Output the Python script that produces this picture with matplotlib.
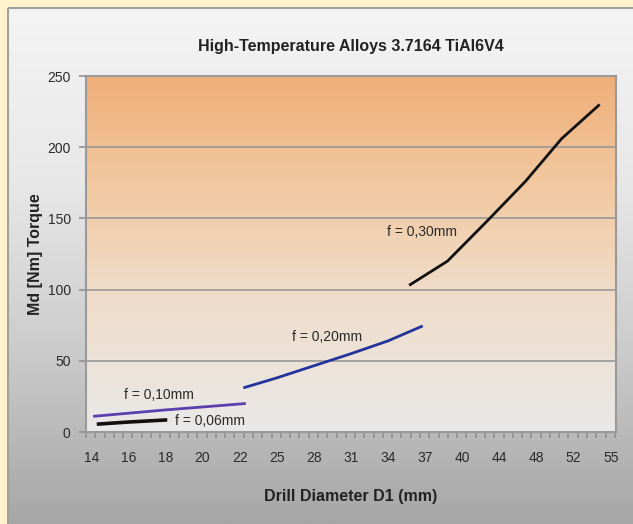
import numpy as np
import matplotlib.pyplot as plt
from matplotlib.colors import LinearSegmentedColormap
from matplotlib.patches import Rectangle

plt.rcParams['font.family'] = ['Liberation Sans', 'DejaVu Sans']

# Daten
diam_labels = [14, 16, 18, 20, 22, 25, 28, 31, 34, 37, 40, 44, 48, 52, 55]

d_006 = [14.3, 16, 18.1]
md_006 = [5.5, 7, 8.5]

d_010 = [14.1, 18, 22.5]
md_010 = [11, 15.5, 20]

d_020 = [22.3, 25, 28, 31, 34, 36.8]
md_020 = [31, 38, 46.5, 55, 64, 74.5]

d_030 = [35.7, 38.8, 42.8, 46.8, 50.7, 54.1]
md_030 = [103, 120, 149, 176, 206, 230]


def pos(d):
    # Durchmesser -> Position auf der Kategorie-Achse
    return np.interp(d, diam_labels, np.arange(len(diam_labels)))


fig = plt.figure(figsize=(6.33, 5.24), dpi=100)
fig.patch.set_facecolor('#fff2cc')

# Hintergrund-Panel mit Verlauf
bg = fig.add_axes([0, 0, 1, 1], zorder=-10)
bg.axis('off')
cm_bg = LinearSegmentedColormap.from_list('bg', ['#f4f4f4', '#e8e8e8', '#cbcbcb', '#a6a6a6'])
grad = np.linspace(0, 1, 256).reshape(-1, 1)
bg.imshow(grad, cmap=cm_bg, extent=(8, 640, 524, 8), aspect='auto', interpolation='bilinear')
bg.add_patch(Rectangle((8, 8), 640, 530, fill=False, edgecolor='#a0a0a0', lw=1.5))
bg.set_xlim(0, 633)
bg.set_ylim(524, 0)

ax = fig.add_axes([86 / 633, 1 - 432 / 524, 530 / 633, 356 / 524])
xmin, xmax = -0.14, len(diam_labels) - 1 + 0.14

cm_plot = LinearSegmentedColormap.from_list(
    'pl', [(0, '#efae78'), (0.3, '#f2c8a0'), (0.6, '#efdcc8'), (0.85, '#ece4dc'), (1.0, '#e9e9e9')])
ax.imshow(grad, cmap=cm_plot, extent=(xmin, xmax, 0, 250), aspect='auto', zorder=0, interpolation='bilinear')

for yv in [50, 100, 150, 200]:
    ax.axhline(yv, color='#999999', lw=1.2, zorder=1)

ax.plot(pos(d_006), md_006, color='#111111', lw=2.6, zorder=3, solid_capstyle='butt')
ax.plot(pos(d_010), md_010, color='#5b3fae', lw=2.0, zorder=3, solid_capstyle='butt')
ax.plot(pos(d_020), md_020, color='#24339c', lw=2.0, zorder=3, solid_capstyle='butt')
ax.plot(pos(d_030), md_030, color='#111111', lw=2.0, zorder=3, solid_capstyle='butt')

tkw = dict(fontsize=10, color='#2a2a2a', va='center', ha='left', zorder=4)
ax.text(2.25, 7.7, 'f = 0,06mm', **tkw)
ax.text(0.89, 26, 'f = 0,10mm', **tkw)
ax.text(5.42, 66.7, 'f = 0,20mm', **tkw)
ax.text(7.97, 140.4, 'f = 0,30mm', **tkw)

ax.set_xlim(xmin, xmax)
ax.set_ylim(0, 250)
ax.set_xticks(np.arange(len(diam_labels)))
ax.set_xticklabels([str(d) for d in diam_labels])
ax.set_xticks(np.arange(xmin, xmax + 0.01, 0.25), minor=True)
ax.set_yticks([0, 50, 100, 150, 200, 250])
ax.tick_params(axis='x', which='major', length=0, pad=14, labelsize=10, labelcolor='#2a2a2a')
ax.tick_params(axis='x', which='minor', length=4, color='#909090', width=1.2)
ax.tick_params(axis='y', length=5, color='#909090', width=1.2, labelsize=10, labelcolor='#2a2a2a', pad=6)

for s in ax.spines.values():
    s.set_color('#999999')
    s.set_linewidth(1.5)

ax.set_title('High-Temperature Alloys 3.7164 TiAl6V4', fontsize=11.5, fontweight='bold',
             color='#222222', pad=18)
ax.set_xlabel('Drill Diameter D1 (mm)', fontsize=11.5, fontweight='bold', color='#222222', labelpad=17)
ax.set_ylabel('Md [Nm] Torque', fontsize=11.5, fontweight='bold', color='#222222', labelpad=3)

fig.savefig('out.png', dpi=100)
